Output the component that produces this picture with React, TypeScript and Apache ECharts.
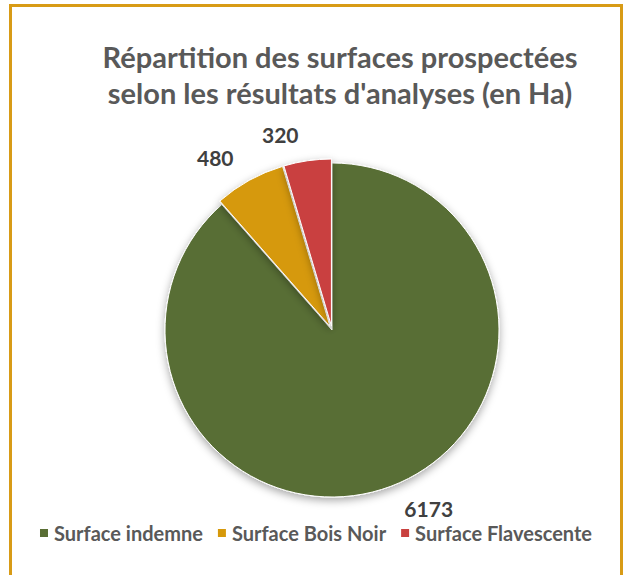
import React, { useEffect, useRef } from "react";
import * as echarts from "echarts";

const categories = ["Surface indemne", "Surface Bois Noir", "Surface Flavescente"];
const values = [6173, 480, 320];
const colors = ["#596E34", "#D6990B", "#C9413F"];
const exploded = [false, true, true];
const titleLines = ["Répartition des surfaces prospectées", "selon les résultats d'analyses (en Ha)"];

export default function App() {
  const ref = useRef<HTMLDivElement>(null);
  useEffect(() => {
    const chart = echarts.init(ref.current!, null, { renderer: "svg" });
    const font = "Lato, 'Open Sans', sans-serif";
    chart.setOption({
      animation: false,
      backgroundColor: "#ffffff",
      title: {
        text: titleLines.join("\n"),
        left: 335,
        textAlign: "center",
        top: 33,
        textStyle: {
          fontFamily: font,
          fontSize: 29,
          fontWeight: "bold",
          color: "#595959",
          lineHeight: 36,
        },
      },
      legend: {
        data: categories,
        left: "center",
        top: 518,
        icon: "rect",
        itemWidth: 10,
        itemHeight: 10,
        itemGap: 13,
        textStyle: { fontFamily: font, fontSize: 20, lineHeight: 20, color: "#595959", fontWeight: "bold" },
      },
      graphic: [
        {
          type: "rect",
          shape: { x: 10.5, y: 5.5, width: 611, height: 600 },
          style: { fill: "none", stroke: "#D89B16", lineWidth: 3 },
          silent: true,
        },
      ],
      series: [
        {
          type: "pie",
          center: [332, 330],
          radius: 167,
          startAngle: 90,
          clockwise: true,
          selectedMode: "multiple",
          selectedOffset: 4,
          itemStyle: {
            borderColor: "#ffffff",
            borderWidth: 1,
            shadowBlur: 8,
            shadowOffsetY: 3,
            shadowColor: "rgba(0,0,0,0.35)",
          },
          label: {
            show: true,
            position: "outside",
            formatter: "{c}",
            fontFamily: font,
            fontSize: 21,
            lineHeight: 17,
            fontWeight: "bold",
            color: "#404040",
          },
          labelLine: { show: false, length: 27, length2: 0 },
          emphasis: { disabled: true },
          data: categories.map((name, i) => ({
            name,
            value: values[i],
            selected: exploded[i],
            itemStyle: { color: colors[i] },
            labelLine: i === 0 ? { show: false, length: 24, length2: 0 } : undefined,
          })),
        },
      ],
    });
    return () => chart.dispose();
  }, []);
  return (
    <div
      ref={ref}
      style={{ position: "fixed", left: 0, top: 0, width: 630, height: 575 }}
    />
  );
}
